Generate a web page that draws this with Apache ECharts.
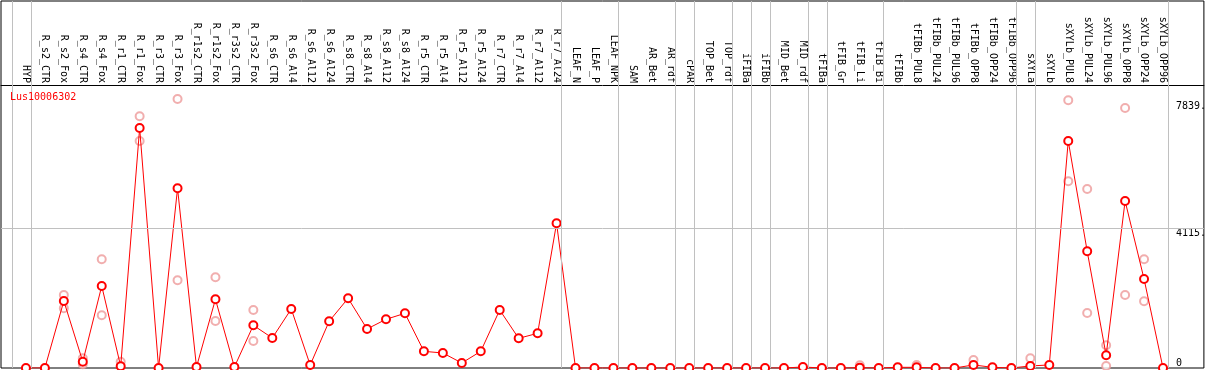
<!DOCTYPE html>
<html>
<head>
<meta charset="utf-8">
<script src="https://cdn.jsdelivr.net/npm/echarts@6/dist/echarts.min.js"></script>
<style>
html,body{margin:0;padding:0;background:#fff}
#main{width:1209px;height:370px}
</style>
</head>
<body>
<div id="main"></div>
<script>
var geneName = 'Lus10006302';

var categories = ['HYP','R_s2_CTR','R_s2_Fox','R_s4_CTR','R_s4_Fox','R_r1_CTR','R_r1_Fox','R_r3_CTR','R_r3_Fox',
    'R_r1s2_CTR','R_r1s2_Fox','R_r3s2_CTR','R_r3s2_Fox','R_s6_CTR','R_s6_Al4','R_s6_Al12','R_s6_Al24',
    'R_s8_CTR','R_s8_Al4','R_s8_Al12','R_s8_Al24','R_r5_CTR','R_r5_Al4','R_r5_Al12','R_r5_Al24',
    'R_r7_CTR','R_r7_Al4','R_r7_Al12','R_r7_Al24','LEAF_N','LEAF_P','LEAF_NPK','SAM','AR_Bet','AR_rdf',
    'cPAR','TOP_Bet','TOP_rdf','iFIBa','iFIBb','MID_Bet','MID_rdf','tFIBa','tFIB_Gr','tFIB_Li','tFIB_Bi',
    'tFIBb','tFIBb_PUL8','tFIBb_PUL24','tFIBb_PUL96','tFIBb_OPP8','tFIBb_OPP24','tFIBb_OPP96',
    'sXYLa','sXYLb','sXYLb_PUL8','sXYLb_PUL24','sXYLb_PUL96','sXYLb_OPP8','sXYLb_OPP24','sXYLb_OPP96'];

// mean expression
var means = [0, 0, 1970, 185, 2410, 50, 7054, 0, 5283, 30, 2020, 30, 1255, 882, 1735, 88, 1373,
    2049, 1147, 1431, 1607, 490, 441, 147, 490, 1705, 872, 1020, 4253,
    0, 0, 0, 0, 0, 0, 0, 0, 0, 0, 0, 0, 30, 0, 0, 10, 0,
    20, 20, 0, 0, 90, 20, 0, 60, 90, 6674, 3431, 373, 4910, 2617, 0];

// replicates (null = hidden behind the mean)
var rep1 = [null, null, 2146, 285, 3196, 185, 7400, null, 7908, null, 2666, null, 1705, null, null, null, null,
    null, null, null, null, null, null, null, null, null, null, null, null,
    null, null, null, null, null, null, null, null, null, null, null, null, null, null, null, 80, null,
    null, 90, null, null, 235, null, null, 285, null, 7870, 5263, 667, 7644, 3196, null];
var rep2 = [null, null, 1754, 108, 1549, null, 6674, null, 2578, null, 1382, null, 794, null, null, null, null,
    null, null, null, null, null, null, null, null, null, null, null, null,
    null, null, null, null, null, null, null, null, null, null, null, null, null, null, null, null, null,
    null, null, null, null, null, null, null, null, null, 5489, 1617, 59, 2146, 1960, null];

// sample groups end after these indices
var groupEnds = [-1, 0, 28, 31, 34, 35, 37, 38, 39, 41, 42, 45, 52, 53, 60];
var yLabels = [4115, 7839];
var yMax = 10787;

var mychart = echarts.init(document.getElementById('main'));

function pairs(arr) {
    var out = [];
    arr.forEach(function (v, i) { if (v !== null) out.push([i, v]); });
    return out;
}

var monoFont = 'DejaVu Sans Mono';

var sepLines = groupEnds.map(function (k) { return { xAxis: k + 5 / 19 }; });
sepLines.push({ yAxis: 4115 });

option = {
    animation: false,
    title: {
        text: geneName,
        left: 10,
        top: 92,
        padding: 0,
        textStyle: { color: '#ff0000', fontSize: 10, fontWeight: 'normal', fontFamily: monoFont }
    },
    grid: {
        left: 1, right: 2, top: 1, bottom: 2,
        show: true,
        borderColor: '#000',
        borderWidth: 1
    },
    xAxis: {
        type: 'value',
        position: 'top',
        offset: -84,
        min: -25 / 19,
        max: 1181 / 19,
        axisLine: { show: true, onZero: false, lineStyle: { color: '#000', width: 1 } },
        axisTick: { show: false },
        splitLine: { show: false },
        axisLabel: {
            customValues: categories.map(function (c, i) { return i; }),
            formatter: function (v) { return categories[Math.round(v)]; },
            rotate: 90,
            margin: 2,
            color: '#000',
            fontSize: 10,
            fontFamily: monoFont
        }
    },
    yAxis: [
        {
            type: 'value',
            position: 'right',
            min: 0,
            max: yMax,
            axisLine: { show: false },
            axisTick: { show: false },
            splitLine: { show: false },
            axisLabel: {
                inside: true,
                customValues: yLabels,
                formatter: function (v) { return v + '.'; },
                align: 'left',
                verticalAlign: 'top',
                margin: 28,
                color: '#000',
                fontSize: 10,
                fontFamily: monoFont
            }
        },
        {
            type: 'value',
            position: 'right',
            min: 0,
            max: yMax,
            axisLine: { show: false },
            axisTick: { show: false },
            splitLine: { show: false },
            axisLabel: {
                inside: true,
                customValues: [0],
                align: 'left',
                verticalAlign: 'bottom',
                margin: 28,
                color: '#000',
                fontSize: 10,
                fontFamily: monoFont
            }
        }
    ],
    series: [
        {
            name: 'grid',
            type: 'line',
            data: [],
            silent: true,
            z: 1,
            markLine: {
                silent: true,
                symbol: 'none',
                label: { show: false },
                lineStyle: { color: '#c0c0c0', type: 'solid', width: 1 },
                data: sepLines
            }
        },
        {
            name: 'rep1',
            type: 'scatter',
            data: pairs(rep1),
            symbol: 'emptyCircle',
            symbolSize: 8,
            z: 2,
            itemStyle: { color: '#ee9a9a', borderWidth: 1.5 }
        },
        {
            name: 'rep2',
            type: 'scatter',
            data: pairs(rep2),
            symbol: 'emptyCircle',
            symbolSize: 8,
            z: 2,
            itemStyle: { color: '#ee9a9a', borderWidth: 1.5 }
        },
        {
            name: 'mean',
            type: 'line',
            data: means.map(function (v, i) { return [i, v]; }),
            symbol: 'emptyCircle',
            symbolSize: 8,
            showAllSymbol: true,
            z: 3,
            lineStyle: { color: '#ff0000', width: 1 },
            itemStyle: { color: '#ff0000', borderWidth: 1.5 }
        }
    ]
};
mychart.setOption(option);
</script>
</body>
</html>
